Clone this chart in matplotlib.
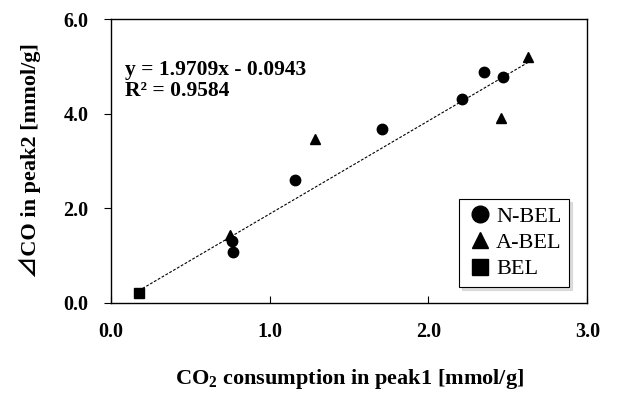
import matplotlib
matplotlib.use("Agg")
import matplotlib.pyplot as plt
import numpy as np

plt.rcParams['font.family'] = ['Liberation Serif', 'DejaVu Sans']
plt.rcParams['mathtext.fontset'] = 'custom'
plt.rcParams['mathtext.rm'] = 'Liberation Serif'
plt.rcParams['mathtext.bf'] = 'Liberation Serif:bold'

# data
nbel_x = [0.772, 0.762, 1.161, 1.706, 2.214, 2.351, 2.468]
nbel_y = [1.08, 1.31, 2.59, 3.68, 4.30, 4.88, 4.77]
abel_x = [0.751, 1.287, 2.456, 2.624]
abel_y = [1.43, 3.47, 3.90, 5.20]
bel_x = [0.176]
bel_y = [0.21]
slope = 1.9709
intercept = -0.0943
r2 = 0.9584

fig = plt.figure(figsize=(6.34, 3.98), dpi=100)
ax = fig.add_axes([0.1746, 0.2395, 0.7517, 0.7125])

all_x = nbel_x + abel_x + bel_x
xs = np.array([min(all_x), max(all_x)])
ax.plot(xs, slope * xs + intercept, color='black', lw=0.8, dashes=(2.5, 1.5), zorder=1)

ax.plot(nbel_x, nbel_y, 'o', color='black', ms=7.5, label='N-BEL', zorder=3)
ax.plot(abel_x, abel_y, '^', color='black', ms=7.5, label='A-BEL', zorder=3)
ax.plot(bel_x, bel_y, 's', color='black', ms=7, label='BEL', zorder=3)

ax.set_xlim(0, 3)
ax.set_ylim(0, 6)
ax.set_xticks([0, 1, 2, 3])
ax.set_yticks([0, 2, 4, 6])
ax.set_xticklabels(['0.0', '1.0', '2.0', '3.0'], fontweight='bold', fontsize=14.5)
ax.set_yticklabels(['0.0', '2.0', '4.0', '6.0'], fontweight='bold', fontsize=14.5)
ax.tick_params(axis='x', direction='in', length=5, pad=14)
ax.tick_params(axis='y', direction='out', length=5, pad=11)
for s in ax.spines.values():
    s.set_linewidth(1.0)

ax.set_xlabel('CO$_\\mathbf{2}$ consumption in peak1 [mmol/g]', fontweight='bold', fontsize=16, labelpad=18)
ax.set_ylabel('⊿CO in peak2 [mmol/g]', fontweight='bold', fontsize=16, labelpad=16,
              family=['Liberation Serif', 'Noto Sans CJK JP'])

ax.text(0.03, 0.855, 'y = 1.9709x - 0.0943\nR² = %.4f' % r2, transform=ax.transAxes,
        fontweight='bold', fontsize=15.5, va='top', ha='left', linespacing=1.05)

leg = ax.legend(loc='lower right', bbox_to_anchor=(0.962, 0.055), fontsize=16,
                markerscale=1.6, fancybox=False, shadow={'color': '0.75', 'ox': 2, 'oy': -2},
                framealpha=1, edgecolor='black', handletextpad=0.1, handlelength=1.2,
                borderpad=0.35, labelspacing=0.25, borderaxespad=0)
leg.get_frame().set_linewidth(0.8)

fig.savefig('out.png', dpi=100)
